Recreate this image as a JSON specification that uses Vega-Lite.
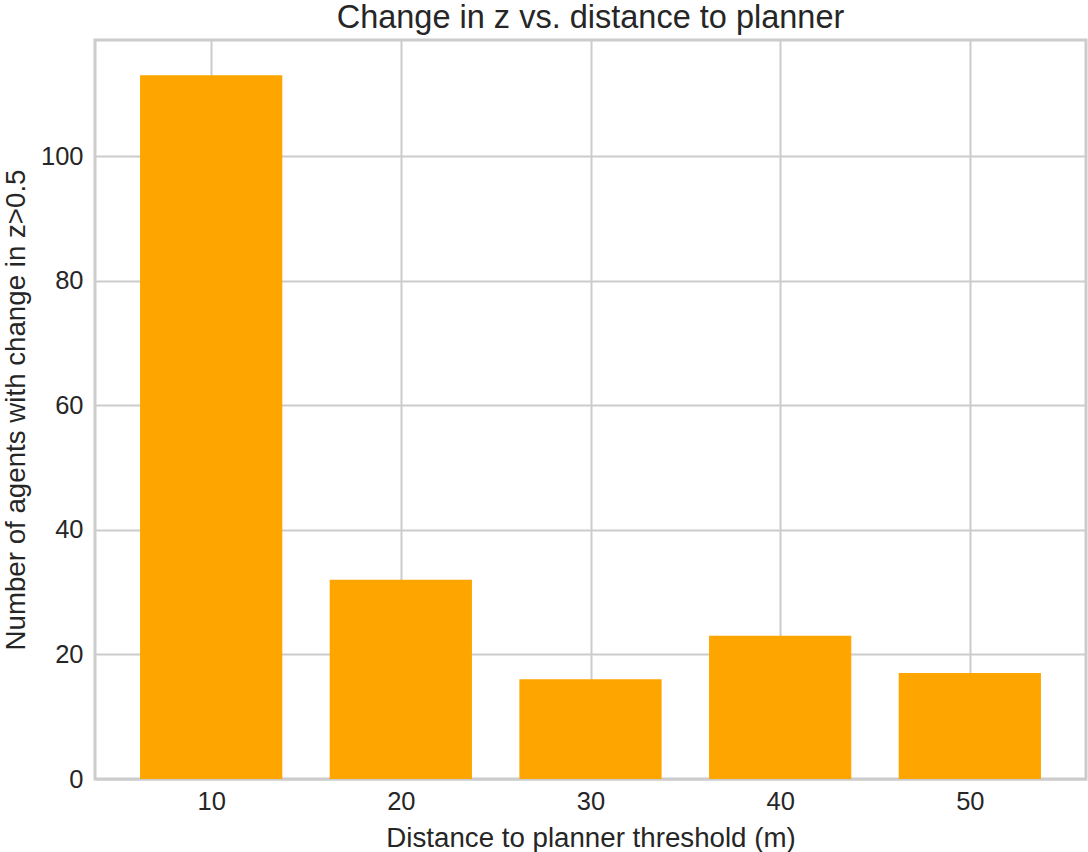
{
  "$schema": "https://vega.github.io/schema/vega-lite/v6.json",
  "width": 991,
  "height": 739,
  "autosize": {"type": "none"},
  "padding": {"left": 95, "top": 40, "right": 2, "bottom": 73},
  "background": "white",
  "config": {
    "font": "Liberation Sans",
    "view": {"stroke": "#cccccc", "strokeWidth": 3},
    "axis": {
      "grid": true,
      "gridColor": "#cccccc",
      "gridWidth": 2,
      "domain": false,
      "ticks": false,
      "labelFont": "Liberation Sans",
      "labelFontSize": 25.5,
      "labelColor": "#262626",
      "titleFont": "Liberation Sans",
      "titleFontSize": 27.7,
      "titleFontWeight": "normal",
      "titleColor": "#262626"
    },
    "title": {
      "font": "Liberation Sans",
      "fontSize": 32.5,
      "fontWeight": "normal",
      "color": "#262626"
    }
  },
  "title": {"text": "Change in z vs. distance to planner", "offset": 6},
  "data": {
    "values": [
      {"distance": 10, "count": 113},
      {"distance": 20, "count": 32},
      {"distance": 30, "count": 16},
      {"distance": 40, "count": 23},
      {"distance": 50, "count": 17}
    ]
  },
  "mark": {"type": "bar", "color": "#FFA500", "width": 142.25},
  "encoding": {
    "x": {
      "field": "distance",
      "type": "quantitative",
      "scale": {"domain": [3.875, 56.125], "nice": false, "zero": false, "padding": 0},
      "axis": {"values": [10, 20, 30, 40, 50], "title": "Distance to planner threshold (m)", "labelPadding": 10, "titlePadding": 10}
    },
    "y": {
      "field": "count",
      "type": "quantitative",
      "scale": {"domain": [0, 118.65], "nice": false},
      "axis": {"values": [0, 20, 40, 60, 80, 100], "title": "Number of agents with change in z>0.5", "labelPadding": 12, "titlePadding": 10}
    }
  }
}
